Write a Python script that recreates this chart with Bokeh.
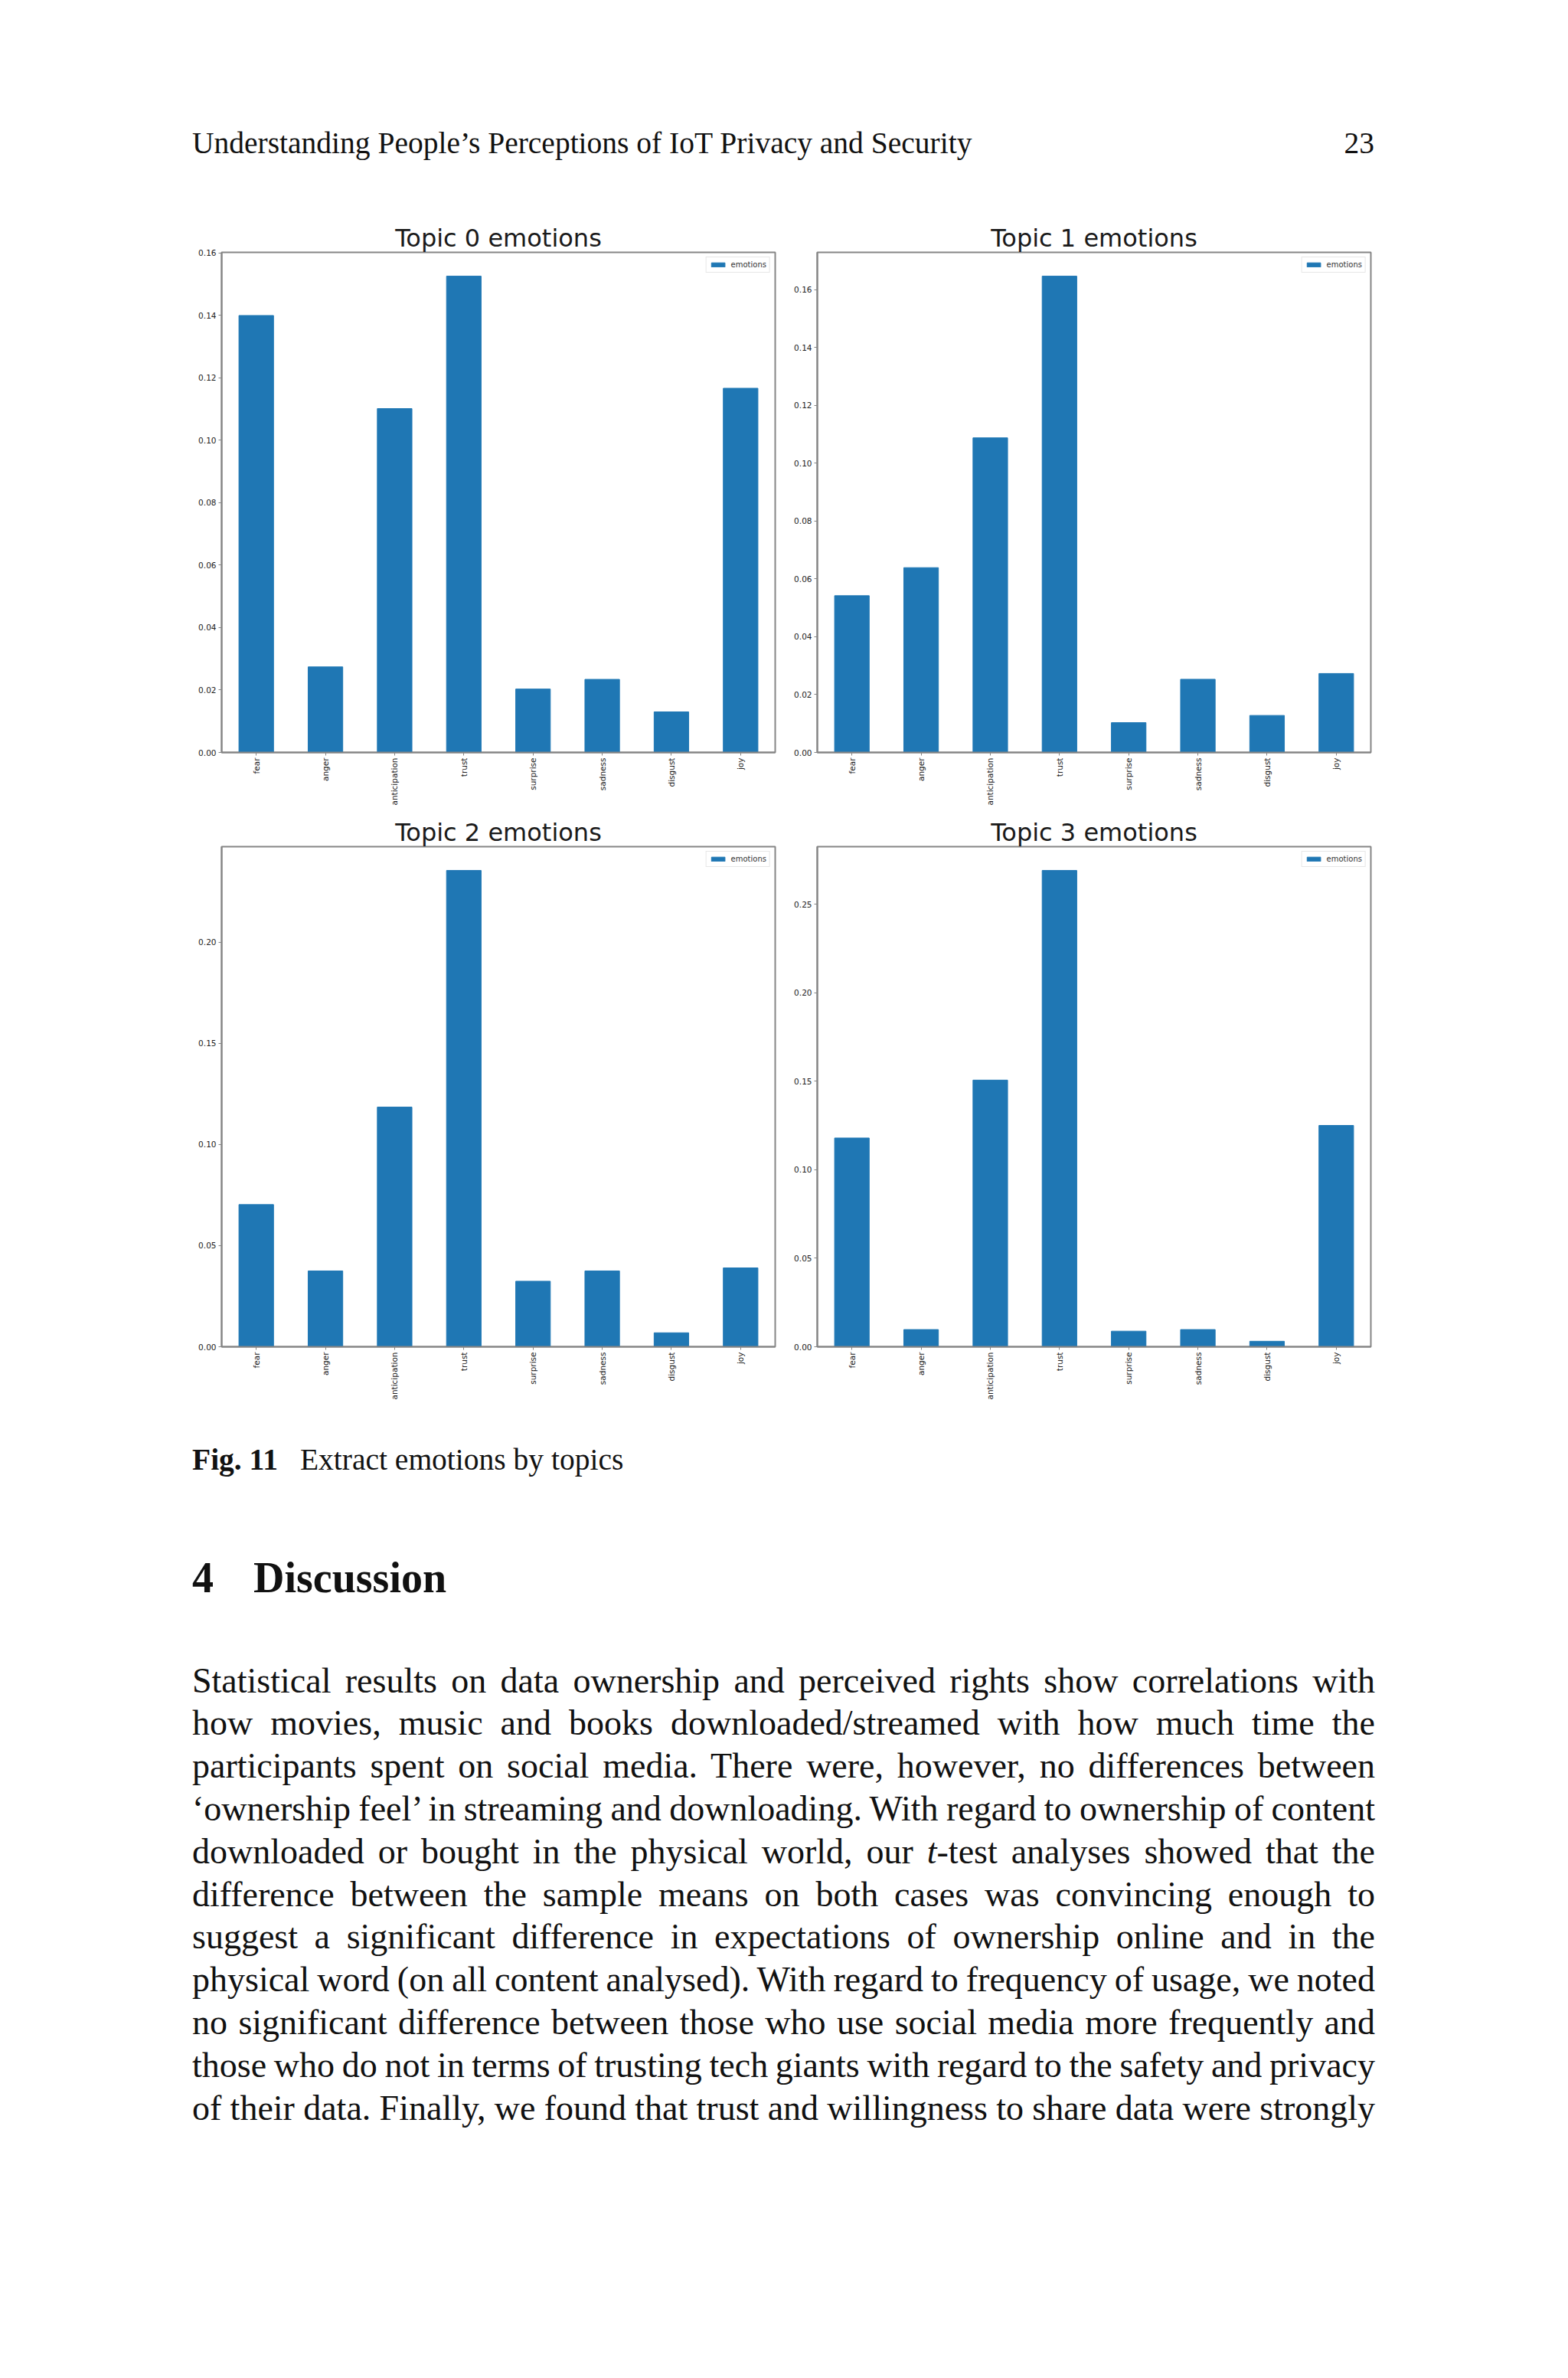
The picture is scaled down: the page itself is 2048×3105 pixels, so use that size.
import math
from bokeh.plotting import figure
from bokeh.layouts import column, row
from bokeh.models import Div, FactorRange, Range1d, FixedTicker, PrintfTickFormatter
from bokeh.embed import file_html
from bokeh.resources import INLINE

emotions = ["fear", "anger", "anticipation", "trust", "surprise", "sadness", "disgust", "joy"]

topic0 = [0.1399, 0.0274, 0.1101, 0.1525, 0.0203, 0.0234, 0.0130, 0.1166]
topic1 = [0.0542, 0.0639, 0.1088, 0.1647, 0.0103, 0.0253, 0.0128, 0.0273]
topic2 = [0.0703, 0.0375, 0.1185, 0.2355, 0.0324, 0.0375, 0.0069, 0.0390]
topic3 = [0.1179, 0.0097, 0.1506, 0.2690, 0.0088, 0.0097, 0.0031, 0.1250]

ticks0 = [0.00, 0.02, 0.04, 0.06, 0.08, 0.10, 0.12, 0.14, 0.16]
ticks1 = [0.00, 0.02, 0.04, 0.06, 0.08, 0.10, 0.12, 0.14, 0.16]
ticks2 = [0.00, 0.05, 0.10, 0.15, 0.20]
ticks3 = [0.00, 0.05, 0.10, 0.15, 0.20, 0.25]

titles = ["Topic 0 emotions", "Topic 1 emotions", "Topic 2 emotions", "Topic 3 emotions"]

running_head = "Understanding People\u2019s Perceptions of IoT Privacy and Security"
page_number = "23"
caption_label = "Fig. 11"
caption_text = "Extract emotions by topics"
section_number = "4"
section_title = "Discussion"
body_lines = [
    "Statistical results on data ownership and perceived rights show correlations with",
    "how movies, music and books downloaded/streamed with how much time the",
    "participants spent on social media. There were, however, no differences between",
    "\u2018ownership feel\u2019 in streaming and downloading. With regard to ownership of content",
    "downloaded or bought in the physical world, our <i>t</i>-test analyses showed that the",
    "difference between the sample means on both cases was convincing enough to",
    "suggest a significant difference in expectations of ownership online and in the",
    "physical word (on all content analysed). With regard to frequency of usage, we noted",
    "no significant difference between those who use social media more frequently and",
    "those who do not in terms of trusting tech giants with regard to the safety and privacy",
    "of their data. Finally, we found that trust and willingness to share data were strongly",
]

FRAME_COLOR = "#858585"


def topic_plot(title, vals, ticks, left, right):
    p = figure(x_range=FactorRange(*emotions), y_range=Range1d(0, max(vals) * 1.05),
               frame_width=723, frame_height=653,
               min_border_left=left, min_border_right=right,
               min_border_top=49, min_border_bottom=74,
               title=title, toolbar_location=None, output_backend="svg")
    p.vbar(x=emotions, top=vals, width=0.5, color="#1f77b4", legend_label="emotions")

    p.title.text_font = "DejaVu Sans"
    p.title.text_font_size = "32px"
    p.title.text_font_style = "normal"
    p.title.text_color = "#1a1a1a"
    p.title.align = "center"
    p.title.standoff = 0
    p.title.offset = 0

    p.xgrid.visible = False
    p.ygrid.visible = False
    p.outline_line_color = FRAME_COLOR
    p.outline_line_width = 2

    p.yaxis.ticker = FixedTicker(ticks=ticks)
    p.yaxis.formatter = PrintfTickFormatter(format="%.2f")
    p.xaxis.major_label_orientation = math.pi / 2
    for ax in (p.xaxis, p.yaxis):
        ax.axis_line_color = FRAME_COLOR
        ax.axis_line_width = 2
        ax.major_tick_line_color = FRAME_COLOR
        ax.major_tick_out = 4
        ax.major_tick_in = 0
        ax.minor_tick_out = 0
        ax.minor_tick_in = 0
        ax.major_label_text_font = "DejaVu Sans"
        ax.major_label_text_font_size = "10.5px"
        ax.major_label_text_color = "#222222"
        ax.major_label_standoff = 3

    p.legend.location = "top_right"
    p.legend.label_text_font = "DejaVu Sans"
    p.legend.label_text_font_size = "10px"
    p.legend.label_text_color = "#333333"
    p.legend.label_height = 10
    p.legend.glyph_height = 7
    p.legend.glyph_width = 22
    p.legend.label_standoff = 6
    p.legend.padding = 4
    p.legend.margin = 6
    p.legend.spacing = 0
    p.legend.border_line_color = "#d0d0d0"
    return p


p0 = topic_plot(titles[0], topic0, ticks0, 289, 5)
p1 = topic_plot(titles[1], topic1, ticks1, 50, 20)
p2 = topic_plot(titles[2], topic2, ticks2, 289, 5)
p3 = topic_plot(titles[3], topic3, ticks3, 50, 20)

serif = "font-family:'Liberation Serif','Times New Roman',serif;color:#111"

header = Div(width=2040, height=270, text=(
    '<div style="position:relative;width:2040px;height:270px;%s;font-size:39.5px;line-height:39.5px">'
    '<div style="position:absolute;left:246px;top:163px;white-space:nowrap">%s</div>'
    '<div style="position:absolute;left:1590px;top:163px;width:200px;text-align:right">%s</div>'
    '</div>' % (serif, running_head, page_number)))

lines_html = ""
for i, line in enumerate(body_lines):
    lines_html += ('<div style="position:absolute;left:246px;top:%.1fpx;width:1545px;'
                   'text-align:justify;text-align-last:justify;word-spacing:-5px">%s</div>'
                   % (329.6 + i * 55.8, line))

text_block = Div(width=2040, height=1000, text=(
    '<div style="position:relative;width:2040px;height:1000px;%s">'
    '<div style="position:absolute;left:246px;top:50px;font-size:39.5px;line-height:39.5px;white-space:nowrap">'
    '<b>%s</b><span style="margin-left:29px">%s</span></div>'
    '<div style="position:absolute;left:246px;top:195px;font-size:56px;line-height:56px;font-weight:bold;white-space:nowrap">'
    '%s<span style="position:absolute;left:80px">%s</span></div>'
    '<div style="font-size:46px;line-height:55.8px">%s</div>'
    '</div>' % (serif, caption_label, caption_text, section_number, section_title, lines_html)))

page = column(header, row(p0, p1), row(p2, p3), text_block)

open("out.html", "w").write(file_html(page, INLINE))
